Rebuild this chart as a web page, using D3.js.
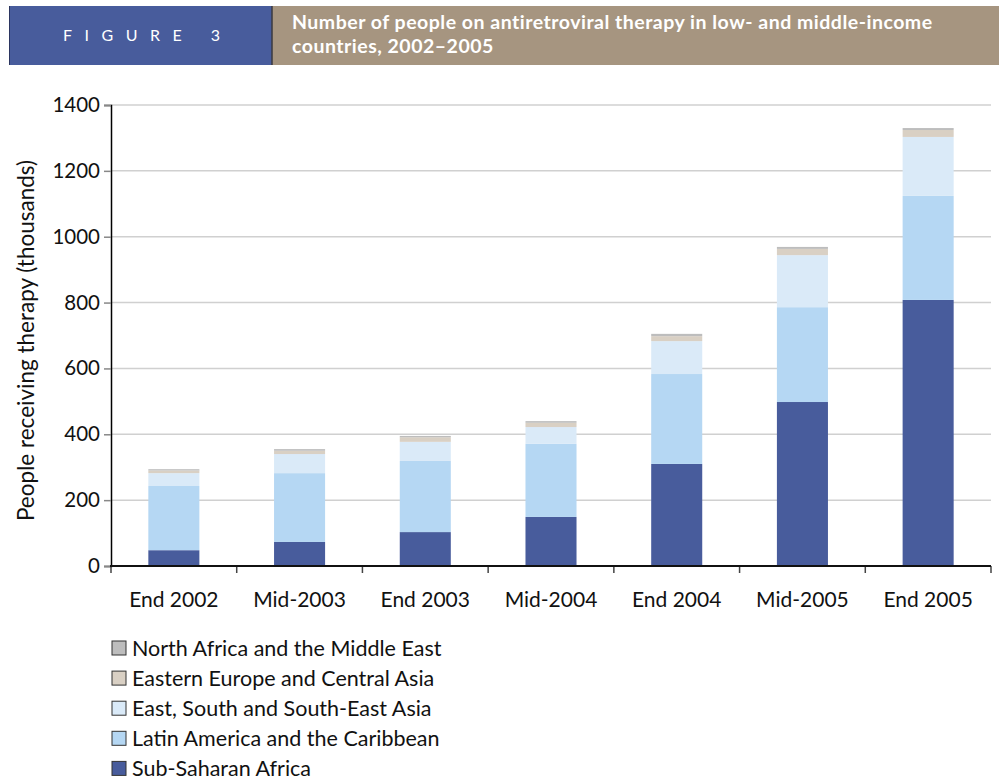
<!DOCTYPE html>
<html>
<head>
<meta charset="utf-8">
<script src="https://cdn.jsdelivr.net/npm/d3@7"></script>
<style>
  body { margin: 0; background: #fff; }
  svg { display: block; font-family: Lato, "Open Sans", sans-serif; }
</style>
</head>
<body>
<div id="chart"></div>
<script>
// periods on the x axis
var periods = ['End 2002', 'Mid-2003', 'End 2003', 'Mid-2004', 'End 2004', 'Mid-2005', 'End 2005'];
// regions, bottom of the stack first
var regions = ['Sub-Saharan Africa', 'Latin America and the Caribbean', 'East, South and South-East Asia',
  'Eastern Europe and Central Asia', 'North Africa and the Middle East'];
var regionColors = ['#485c9c', '#b5d7f3', '#daeaf8', '#d9d0c4', '#bdbdbd'];
// thousands of people
var subSaharan = [48, 73, 103, 149, 310, 498, 808];
var latinAmerica = [195, 209, 216, 222, 273, 288, 316];
var eastAsia = [39, 58, 58, 51, 100, 158, 179];
var easternEurope = [8, 10, 14, 13, 15, 19, 21];
var northAfrica = [4, 5, 4, 5, 7, 6, 6];
var yTicks = [0, 200, 400, 600, 800, 1000, 1200, 1400];

var width = 999, height = 781;
var margin = { left: 111, right: 8, top: 105, bottom: 215 };

var svg = d3.select('#chart').append('svg')
  .attr('width', width)
  .attr('height', height);

// header band
svg.append('rect').attr('x', 9).attr('y', 6).attr('width', 263).attr('height', 59).attr('fill', '#485c9c');
svg.append('rect').attr('x', 272).attr('y', 6).attr('width', 727).attr('height', 59).attr('fill', '#a69580');
svg.append('line').attr('x1', 9.5).attr('x2', 9.5).attr('y1', 6).attr('y2', 65).attr('stroke', '#2b3560').attr('stroke-width', 1);
svg.append('line').attr('x1', 272).attr('x2', 272).attr('y1', 6).attr('y2', 65).attr('stroke', '#3a3a40').attr('stroke-width', 1.5);
svg.append('text')
  .attr('x', 63).attr('y', 41)
  .attr('fill', '#fff')
  .attr('font-size', 16)
  .attr('letter-spacing', 12.5)
  .text('FIGURE 3');
var title = svg.append('text')
  .attr('fill', '#fff')
  .attr('font-size', 19.5)
  .attr('letter-spacing', 0.5)
  .attr('font-weight', 'bold');
title.append('tspan').attr('x', 292).attr('y', 29)
  .text('Number of people on antiretroviral therapy in low- and middle-income');
title.append('tspan').attr('x', 292).attr('y', 53)
  .text('countries, 2002\u20132005');

var data = periods.map(function (p, i) {
  return {
    period: p,
    'Sub-Saharan Africa': subSaharan[i],
    'Latin America and the Caribbean': latinAmerica[i],
    'East, South and South-East Asia': eastAsia[i],
    'Eastern Europe and Central Asia': easternEurope[i],
    'North Africa and the Middle East': northAfrica[i]
  };
});
var series = d3.stack().keys(regions)(data);

var x = d3.scaleBand()
  .domain(periods)
  .range([margin.left, width - margin.right])
  .paddingInner(0.594)
  .paddingOuter(0.297);

var y = d3.scaleLinear()
  .domain([0, 1400])
  .range([height - margin.bottom, margin.top]);

var color = d3.scaleOrdinal().domain(regions).range(regionColors);

// gridlines
svg.append('g')
  .selectAll('line')
  .data(yTicks.filter(function (d) { return d > 0; }))
  .enter()
  .append('line')
  .attr('x1', margin.left)
  .attr('x2', width - margin.right)
  .attr('y1', function (d) { return y(d); })
  .attr('y2', function (d) { return y(d); })
  .attr('stroke', '#d0d0d0')
  .attr('stroke-width', 1.5);

// bars
svg.append('g')
  .selectAll('g')
  .data(series)
  .enter()
  .append('g')
  .attr('fill', function (d) { return color(d.key); })
  .selectAll('rect')
  .data(function (d) { return d; })
  .enter()
  .append('rect')
  .attr('x', function (d) { return x(d.data.period); })
  .attr('y', function (d) { return y(d[1]); })
  .attr('height', function (d) { return y(d[0]) - y(d[1]); })
  .attr('width', x.bandwidth());

// y axis
var yAxis = svg.append('g')
  .attr('transform', 'translate(' + margin.left + ',0)')
  .call(d3.axisLeft(y).tickValues(yTicks).tickSize(7).tickPadding(4).tickFormat(d3.format('d')));
yAxis.select('.domain').attr('stroke', '#000').attr('stroke-width', 1.5);
yAxis.selectAll('.tick line').attr('stroke', '#888').attr('stroke-width', 1.5);
yAxis.selectAll('text').attr('font-size', 20.5).attr('fill', '#111').attr('font-family', 'Lato, sans-serif');

// x axis, ticks at the band edges
var xBase = y(0);
var edges = periods.map(function (p) { return x(p) - x.step() * x.paddingInner() / 2; });
edges.push(width - margin.right);
svg.append('g')
  .selectAll('line')
  .data(edges)
  .enter()
  .append('line')
  .attr('x1', function (d) { return d; })
  .attr('x2', function (d) { return d; })
  .attr('y1', xBase)
  .attr('y2', xBase + 7)
  .attr('stroke', '#444')
  .attr('stroke-width', 1.5);
svg.append('line')
  .attr('x1', margin.left - 1)
  .attr('x2', width - margin.right)
  .attr('y1', xBase)
  .attr('y2', xBase)
  .attr('stroke', '#111')
  .attr('stroke-width', 2);
svg.append('g')
  .selectAll('text')
  .data(periods)
  .enter()
  .append('text')
  .attr('x', function (d) { return x(d) + x.bandwidth() / 2; })
  .attr('y', xBase + 41)
  .attr('text-anchor', 'middle')
  .attr('font-size', 21)
  .attr('fill', '#111')
  .text(function (d) { return d; });

// y axis title
svg.append('text')
  .attr('transform', 'translate(34,' + ((y(0) + y(1400)) / 2 + 5) + ') rotate(-90)')
  .attr('text-anchor', 'middle')
  .attr('font-size', 22.5)
  .attr('fill', '#111')
  .text('People receiving therapy (thousands)');

// legend, top entry is the top of the stack
var legendItems = regions.slice().reverse();
var legend = svg.append('g')
  .selectAll('g')
  .data(legendItems)
  .enter()
  .append('g')
  .attr('transform', function (d, i) { return 'translate(112,' + (641 + i * 30.1) + ')'; });
legend.append('rect')
  .attr('width', 14)
  .attr('height', 14)
  .attr('fill', function (d) { return color(d); })
  .attr('stroke', '#333')
  .attr('stroke-width', 1);
legend.append('text')
  .attr('x', 20)
  .attr('y', 14.5)
  .attr('font-size', 21.5)
  .attr('fill', '#111')
  .text(function (d) { return d; });
</script>
</body>
</html>
